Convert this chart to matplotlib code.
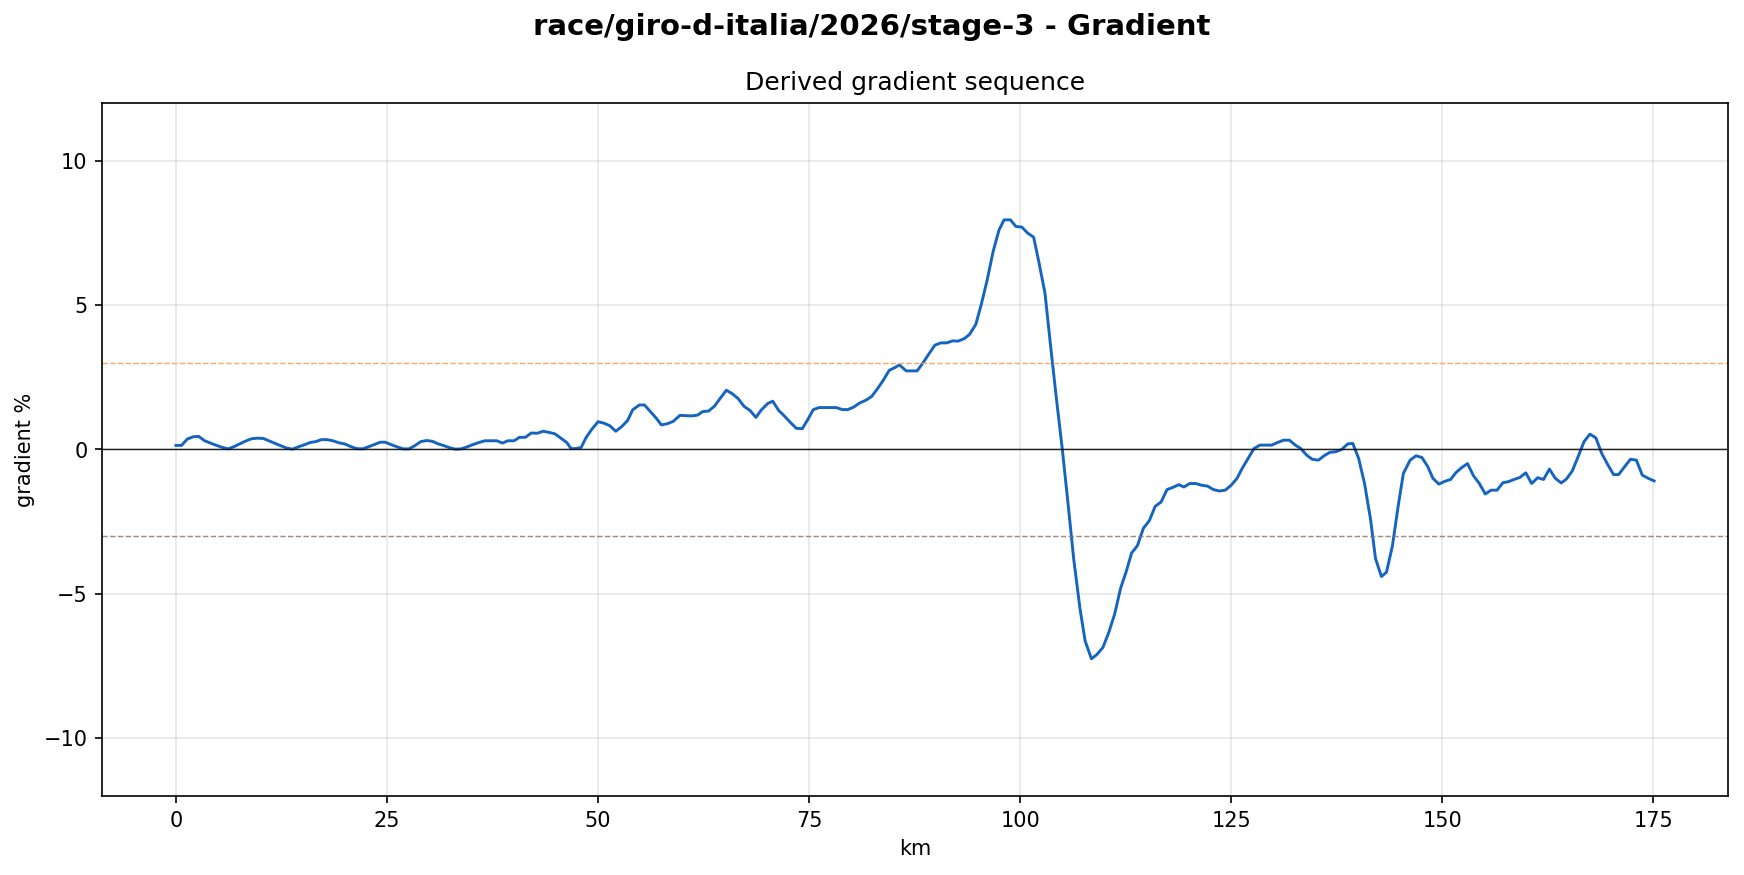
import matplotlib
matplotlib.use("Agg")
import matplotlib.pyplot as plt

# distance along the stage (km) and derived gradient (%)
km = [0.0, 0.67, 1.34, 2.05, 2.7, 3.4, 4.1, 4.8, 5.5, 6.2, 6.9, 7.6, 8.25, 8.97, 9.6,
      10.35, 11.0, 11.7, 12.4, 13.1, 13.8, 14.5, 15.2, 15.9, 16.55, 17.26, 17.9, 18.6,
      19.3, 20.0, 20.7, 21.4, 22.1, 22.8, 23.5, 24.2, 24.8, 25.55, 26.2, 26.9, 27.6,
      28.3, 29.0, 29.7, 30.4, 31.0, 31.75, 32.4, 33.1, 33.8, 34.5, 35.2, 35.9, 36.6,
      37.3, 38.0, 38.7, 39.3, 40.05, 40.7, 41.4, 42.1, 42.8, 43.5, 44.2, 44.9, 45.6,
      46.3, 46.8, 47.4, 48.0, 48.6, 49.3, 50.0, 50.7, 51.4, 52.1, 52.8, 53.5, 54.1,
      54.9, 55.5, 56.2, 56.9, 57.5, 58.2, 58.9, 59.7, 60.4, 61.1, 61.8, 62.4, 63.1,
      63.8, 64.5, 65.2, 65.9, 66.6, 67.3, 68.0, 68.7, 69.35, 70.1, 70.7, 71.4, 72.1,
      72.8, 73.5, 74.2, 74.9, 75.5, 76.2, 76.9, 77.6, 78.2, 78.95, 79.6, 80.3, 81.0,
      81.7, 82.4, 83.1, 83.8, 84.5, 85.2, 85.7, 86.5, 87.2, 87.8, 88.5, 89.2, 89.9,
      90.6, 91.3, 92.0, 92.65, 93.4, 94.0, 94.75, 95.4, 96.1, 96.8, 97.5, 98.1, 98.85,
      99.5, 100.2, 100.9, 101.6, 102.25, 102.95, 103.6, 104.3, 105.0, 105.7, 106.35,
      107.1, 107.7, 108.45, 109.1, 109.8, 110.5, 111.2, 111.9, 112.6, 113.2, 113.9,
      114.6, 115.3, 116.0, 116.7, 117.4, 118.05, 118.8, 119.4, 120.1, 120.8, 121.5,
      122.2, 122.9, 123.6, 124.3, 125.0, 125.7, 126.3, 127.05, 127.7, 128.4, 129.1,
      129.8, 130.5, 131.2, 131.9, 132.6, 133.25, 133.95, 134.6, 135.35, 136.0, 136.7,
      137.4, 138.1, 138.8, 139.4, 140.1, 140.8, 141.5, 142.1, 142.8, 143.4, 144.1,
      144.8, 145.4, 146.2, 146.9, 147.6, 148.3, 148.9, 149.6, 150.35, 151.0, 151.6,
      152.3, 153.0, 153.7, 154.4, 155.1, 155.8, 156.5, 157.2, 157.8, 158.6, 159.2,
      159.9, 160.6, 161.3, 162.0, 162.7, 163.4, 164.1, 164.7, 165.4, 166.1, 166.8,
      167.5, 168.2, 168.9, 169.6, 170.3, 170.9, 171.6, 172.3, 173.0, 173.7, 174.4, 175.1]

grade = [0.14, 0.14, 0.36, 0.44, 0.45, 0.30, 0.22, 0.14, 0.07, 0.02, 0.10, 0.20, 0.29, 0.37,
         0.39, 0.38, 0.30, 0.21, 0.13, 0.05, 0.01, 0.09, 0.16, 0.24, 0.27, 0.34, 0.34, 0.30,
         0.23, 0.19, 0.10, 0.03, 0.02, 0.09, 0.17, 0.25, 0.25, 0.16, 0.09, 0.02, 0.02,
         0.13, 0.27, 0.31, 0.28, 0.20, 0.13, 0.06, 0.01, 0.02, 0.09, 0.17, 0.24, 0.30,
         0.30, 0.30, 0.22, 0.30, 0.30, 0.42, 0.42, 0.57, 0.56, 0.63, 0.59, 0.54, 0.39,
         0.24, 0.03, 0.03, 0.07, 0.42, 0.71, 0.96, 0.91, 0.82, 0.63, 0.79, 1.00, 1.37,
         1.54, 1.54, 1.31, 1.08, 0.85, 0.89, 0.97, 1.18, 1.17, 1.16, 1.19, 1.31, 1.33,
         1.50, 1.78, 2.05, 1.93, 1.76, 1.49, 1.35, 1.11, 1.37, 1.59, 1.67, 1.35, 1.15,
         0.93, 0.73, 0.72, 1.06, 1.38, 1.45, 1.45, 1.45, 1.45, 1.38, 1.38, 1.47, 1.61,
         1.70, 1.83, 2.10, 2.40, 2.74, 2.84, 2.93, 2.72, 2.72, 2.72, 3.00, 3.31, 3.61,
         3.69, 3.69, 3.76, 3.75, 3.84, 3.98, 4.33, 5.02, 5.87, 6.85, 7.60, 7.95, 7.95,
         7.72, 7.70, 7.49, 7.35, 6.45, 5.40, 3.61, 1.76, 0.00, -1.94, -3.80,
         -5.53, -6.63, -7.25, -7.10, -6.86, -6.34, -5.70, -4.81, -4.20, -3.59, -3.33,
         -2.73, -2.47, -1.97, -1.82, -1.39, -1.32, -1.22, -1.30, -1.18, -1.18, -1.24,
         -1.27, -1.39, -1.44, -1.41, -1.24, -1.00, -0.66, -0.29, 0.03, 0.15, 0.15,
         0.15, 0.24, 0.32, 0.32, 0.15, 0.03, -0.20, -0.34, -0.37, -0.22, -0.10,
         -0.08, 0.00, 0.19, 0.21, -0.31, -1.18, -2.40, -3.78, -4.40, -4.25, -3.34,
         -1.93, -0.83, -0.37, -0.22, -0.28, -0.60, -1.00, -1.20, -1.10, -1.04, -0.81,
         -0.63, -0.49, -0.91, -1.18, -1.54, -1.41, -1.41, -1.15, -1.12, -1.03, -0.97,
         -0.81, -1.18, -0.98, -1.04, -0.68, -1.00, -1.16, -1.03, -0.75, -0.25, 0.27,
         0.53, 0.40, -0.14, -0.52, -0.87, -0.87, -0.60, -0.34, -0.37, -0.89, -1.00, -1.09]

steep_up = 3
steep_down = -3

fig = plt.figure(figsize=(11.627, 5.834), dpi=150)
ax = fig.add_axes([0.0585, 0.0903, 0.9323, 0.792])

ax.plot(km, grade, color="#1565C0", linewidth=1.4)
ax.axhline(0, color="black", linewidth=0.7, alpha=0.85)
ax.axhline(steep_up, color="#F4A460", linestyle="--", linewidth=0.7, alpha=0.9)
ax.axhline(steep_down, color="#8D6E63", linestyle="--", linewidth=0.7, alpha=0.8)

ax.set_ylim(-12, 12)
ax.grid(True, alpha=0.3)
ax.set_xlabel("km")
ax.set_ylabel("gradient %")
ax.set_title("Derived gradient sequence", fontsize=12)
fig.suptitle("race/giro-d-italia/2026/stage-3 - Gradient", fontsize=14, fontweight="bold", y=0.985)

fig.savefig("out.png", dpi=150)
